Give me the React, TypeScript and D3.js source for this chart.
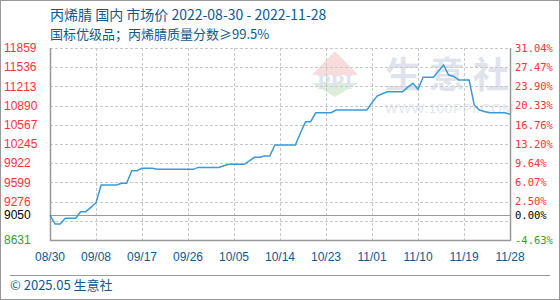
import React from "react";
import * as d3 from "d3";

const TITLE = "丙烯腈 国内 市场价 2022-08-30 - 2022-11-28";
const SUBTITLE = "国标优级品；丙烯腈质量分数≥99.5%";
const COPYRIGHT = "© 2025.05 生意社";
const START_DATE = "2022-08-30";
const BASE_VALUE = 9050;
const Y_MIN = 8631;
const Y_MAX = 11859;

const xTickLabels = ["08/30", "09/08", "09/17", "09/26", "10/05", "10/14", "10/23", "11/01", "11/10", "11/19", "11/28"];
const yTickValues = [11859, 11536, 11213, 10890, 10567, 10245, 9922, 9599, 9276, 9050, 8631];

const prices = [
  9050, 8900, 8900, 8996, 8996, 8996, 9107, 9107, 9180, 9258,
  9556, 9556, 9556, 9556, 9584, 9584, 9796, 9796, 9836, 9836,
  9836, 9819, 9819, 9819, 9819, 9819, 9819, 9819, 9819, 9852,
  9852, 9852, 9852, 9852, 9880, 9903, 9903, 9903, 9903, 9960,
  10021, 10021, 10043, 10043, 10228, 10228, 10228, 10228, 10228, 10430,
  10620, 10620, 10771, 10771, 10771, 10771, 10817, 10817, 10817, 10817,
  10817, 10817, 10817, 10940, 11052, 11090, 11124, 11124, 11124, 11124,
  11200, 11265, 11164, 11366, 11366, 11366, 11470, 11573, 11405, 11380,
  11321, 11321, 11321, 10901, 10817, 10790, 10771, 10771, 10771, 10771,
  10744,
];

const W = 560;
const H = 300;
const M = { left: 50, right: 510, top: 48, bottom: 240 };

export default function App() {
  const start = d3.timeParse("%Y-%m-%d")(START_DATE) as Date;
  const data = prices.map((v, i) => ({ date: d3.timeDay.offset(start, i), value: v }));
  const end = data[data.length - 1].date;

  const x = d3.scaleTime().domain([start, end]).range([M.left, M.right]);
  const y = d3.scaleLinear().domain([Y_MIN, Y_MAX]).range([M.bottom, M.top]);

  const line = d3
    .line<{ date: Date; value: number }>()
    .x((d) => x(d.date))
    .y((d) => y(d.value));

  const gridVals = d3.range(0, 11).map((i) => Y_MIN + (i * (Y_MAX - Y_MIN)) / 10);
  const xTickDates = xTickLabels.map((_, i) => d3.timeDay.offset(start, i * 9));

  const colorFor = (v: number) => (v > BASE_VALUE ? "#ff3333" : v < BASE_VALUE ? "#33a033" : "#000000");
  const pct = (v: number) => ((v / BASE_VALUE - 1) * 100).toFixed(2) + "%";

  const textBlue = "#0b5a92";

  return (
    <div style={{ position: "absolute", left: 0, top: 0 }}>
      <svg width={W} height={H} style={{ display: "block", background: "#fff" }}>
        <rect x={0.5} y={0.5} width={W - 1} height={H - 1} fill="#fff" stroke="#999" />

        {/* watermark */}
        <g>
          <polygon points="312,75 335,51 358,75" fill="#f7dcdc" />
          <polygon points="312,83 358,83 335,97" fill="#d9efd9" />
          <text x={335} y={89} textAnchor="middle" fontFamily="Liberation Serif" fontWeight="bold" fontSize={22} fill="#dfe3ee">PPI</text>
          <text x={385} y={88} fontFamily="Noto Sans CJK SC" fontWeight="bold" fontSize={36} fill="#dfe3ee" letterSpacing={8}>生意社</text>
          <text x={385} y={113} fontFamily="Liberation Sans" fontSize={13.5} fill="#e3e6ec" letterSpacing={0.6}>WWW.100PPI.COM</text>
        </g>

        {/* horizontal grid */}
        {gridVals.slice(1).map((v, i) => (
          <line key={"h" + i} x1={M.left} x2={M.right} y1={Math.round(y(v)) + 0.5} y2={Math.round(y(v)) + 0.5} stroke="#c8c8c8" strokeDasharray="3,2" />
        ))}
        {/* vertical grid */}
        {xTickDates.slice(1, -1).map((d, i) => (
          <line key={"v" + i} x1={Math.round(x(d)) + 0.5} x2={Math.round(x(d)) + 0.5} y1={M.top} y2={M.bottom} stroke="#c8c8c8" strokeDasharray="3,2" />
        ))}

        {/* base line */}
        <line x1={M.left} x2={M.right} y1={Math.round(y(BASE_VALUE)) + 0.5} y2={Math.round(y(BASE_VALUE)) + 0.5} stroke="#999" strokeWidth={1} />

        {/* frame */}
        <path
          d={`M${M.left + 0.5},${M.top}V${M.bottom + 0.5}H${M.right + 0.5}V${M.top}`}
          fill="none"
          stroke="#999"
          strokeWidth={1.5}
        />

        <path d={line(data) || ""} fill="none" stroke="#3a9ad9" strokeWidth={1.5} />

        {/* left axis */}
        {yTickValues.map((v) => (
          <text key={"l" + v} x={4} y={y(v)} dy="0.35em" fontFamily="Liberation Sans" fontSize={12} fill={colorFor(v)}>
            {v}
          </text>
        ))}
        {/* right axis */}
        {yTickValues.map((v) => (
          <text key={"r" + v} x={515} y={y(v)} dy="0.35em" fontFamily="DejaVu Sans Mono" fontSize={10.5} fill={colorFor(v)}>
            {pct(v)}
          </text>
        ))}

        {/* x axis labels */}
        {xTickDates.map((d, i) => (
          <text key={"x" + i} x={x(d)} y={257} dy="0.35em" textAnchor="middle" fontFamily="Liberation Sans" fontSize={12} fill={textBlue}>
            {xTickLabels[i]}
          </text>
        ))}

        {/* titles */}
        <text x={50} y={20} fontFamily="Noto Sans CJK SC" fontSize={14} fill={textBlue}>{TITLE}</text>
        <text x={50} y={39} fontFamily="Noto Sans CJK SC" fontSize={13} fill={textBlue}>{SUBTITLE}</text>

        {/* footer */}
        <line x1={10} x2={550} y1={275.5} y2={275.5} stroke="#999" />
        <text x={10} y={290} fontFamily="Noto Sans CJK SC" fontSize={13} fill={textBlue}>{COPYRIGHT}</text>
      </svg>
    </div>
  );
}
